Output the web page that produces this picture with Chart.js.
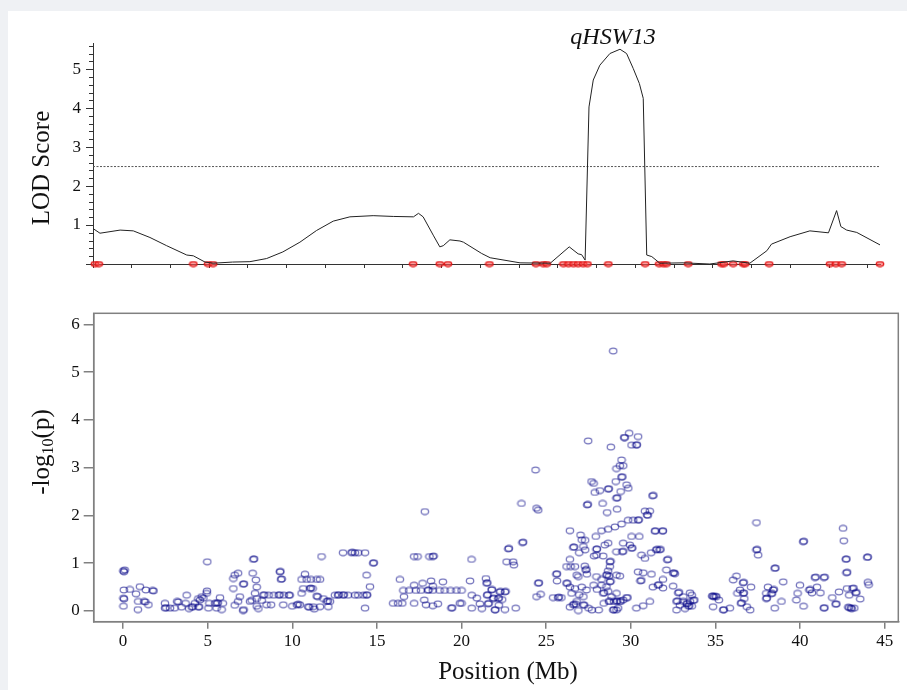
<!DOCTYPE html>
<html>
<head>
<meta charset="utf-8">
<script src="https://cdn.jsdelivr.net/npm/chart.js@4.4.1/dist/chart.umd.min.js"></script>
<style>
  body { margin: 0; background: #eff1f4; width: 907px; height: 690px; overflow: hidden; position: relative; font-family: "Liberation Serif", "DejaVu Serif", serif; }
  #panel { position: absolute; left: 8px; top: 11px; right: 0; bottom: 0; background: #fff; }
  canvas { position: absolute; left: 0; }
  #lodChart { top: 0; }
  #pChart { top: 290px; }
  .lbl { position: absolute; color: #111; white-space: nowrap; font-size: 25px; line-height: 1; }
  .rot { transform: translate(-50%, -50%) rotate(-90deg); }
  .ctr { transform: translate(-50%, -50%); }
  sub { font-size: 16px; vertical-align: -4px; line-height: 0; }
</style>
</head>
<body>
<div id="panel"></div>
<canvas id="lodChart" width="907" height="290"></canvas>
<canvas id="pChart" width="907" height="400"></canvas>
<div class="lbl rot" style="left:40px; top:168px;">LOD Score</div>
<div class="lbl ctr" style="left:613px; top:36px; font-style:italic; font-size:24px;">qHSW13</div>
<div class="lbl rot" style="left:40px; top:452px;">-log<sub>10</sub>(p)</div>
<div class="lbl ctr" style="left:508px; top:670px;">Position (Mb)</div>
<script>
// LOD profile (map units along the top panel) and its values
const lodPos = [0, 0.18, 0.7, 1.04, 1.47, 1.9, 2.42, 2.59, 2.89, 3.1, 3.6, 4.05, 4.48, 4.9, 5.34,
  5.77, 6.2, 6.63, 7.23, 7.75, 8.27, 8.4, 8.52, 8.78, 8.95, 9.04, 9.21, 9.47, 9.56, 10.03,
  10.25, 11.02, 11.8, 12.29, 12.52, 12.61, 12.7, 12.8, 12.91, 13.08, 13.34, 13.6, 13.77, 13.94, 14.1,
  14.2, 14.29, 14.42, 14.63, 15.23, 15.92, 16.52, 16.95, 17.39, 17.51, 17.99, 18.5, 18.98, 19.19, 19.3,
  19.45, 19.71, 20.31];
const lodVal = [0.91, 0.79, 0.87, 0.85, 0.68, 0.47, 0.23, 0.21, 0.05, 0.02, 0.05, 0.06, 0.14, 0.31, 0.56,
  0.86, 1.1, 1.21, 1.24, 1.22, 1.21, 1.3, 1.21, 0.74, 0.44, 0.47, 0.62, 0.59, 0.56, 0.27,
  0.16, 0.03, 0.02, 0.44, 0.26, 0.24, 0.1, 4.03, 4.72, 5.1, 5.4, 5.51, 5.4, 5.02, 4.63,
  4.25, 0.23, 0.19, 0.02, 0.03, 0.0, 0.08, 0.02, 0.34, 0.51, 0.7, 0.85, 0.8, 1.37, 0.96,
  0.87, 0.81, 0.49];
const markerPos = [0.05, 0.15, 2.59, 2.97, 3.1, 8.26, 8.95, 9.16, 10.23, 11.43, 11.62, 11.71, 12.14, 12.27,
  12.4, 12.52, 12.65, 12.76, 13.3, 14.25, 14.61, 14.72, 14.8, 15.36, 16.22, 16.28, 16.52, 16.78, 16.83,
  17.45, 19.02, 19.17, 19.32, 20.31];
const lodThreshold = 2.5;
const lodMapLength = 20.31;
const lodMax = 5.67;
const lodMinorStep = 0.2;

// SNP association: [position Mb, -log10(p)]
const snps0to5 = [[0.02,0.84],[0.06,0.82],[0.1,0.86],[0.05,0.44],[0.4,0.45],[1.0,0.51],[0.77,0.36],
  [0.03,0.27],[0.06,0.25],[0.03,0.1],[0.9,0.2],[0.88,0.03],[1.25,0.2],[1.32,0.19],[1.5,0.13],[1.75,0.43],
  [1.8,0.42],[1.35,0.44],[2.48,0.16],[2.48,0.06],[2.55,0.07],[2.78,0.06],[3.05,0.06],[3.2,0.2],[3.27,0.19],
  [3.46,0.08],[3.7,0.16],[3.76,0.33],[3.9,0.05],[4.06,0.08],[4.12,0.09],[4.25,0.16],[4.45,0.08],[4.5,0.09],
  [4.45,0.26],[4.55,0.23],[4.65,0.3],[4.75,0.27],[4.94,0.37],[4.96,0.42],[4.98,1.03],[5.05,0.06],[5.1,0.16]];
const snps5to10 = [[5.43,0.16],[5.53,0.16],[5.6,0.17],[5.73,0.28],[5.83,0.03],[5.53,0.06],[5.9,0.16],
  [6.52,0.68],[6.6,0.75],[6.8,0.79],[6.52,0.47],[7.1,0.56],[7.15,0.57],[6.9,0.3],[6.6,0.12],[6.8,0.2],
  [7.1,0.01],[7.12,0.03],[7.5,0.2],[7.6,0.22],[7.7,1.08],[7.75,1.09],[7.66,0.79],[7.85,0.65],[7.9,0.5],
  [7.8,0.37],[7.9,0.26],[7.9,0.1],[8.0,0.05],[8.2,0.22],[8.29,0.33],[8.35,0.34],[8.6,0.33],[8.9,0.33],
  [9.2,0.33],[9.25,0.34],[9.5,0.33],[9.8,0.33],[8.48,0.13],[8.75,0.13],[9.27,0.82],[9.3,0.83],[9.33,0.66],
  [9.38,0.67],[9.47,0.13],[9.85,0.33],[10.0,0.1]];
const snps10to20 = [[10.27,0.13],[10.35,0.14],[10.45,0.13],[10.55,0.37],[10.65,0.47],[10.75,0.77],
  [10.55,0.66],[10.85,0.66],[11.1,0.66],[11.44,0.66],[11.64,0.66],[11.04,0.47],[11.1,0.48],[11.2,0.47],
  [10.94,0.09],[11.0,0.08],[11.24,0.09],[11.3,0.04],[11.44,0.31],[11.5,0.3],[11.73,1.14],[11.64,0.09],
  [11.84,0.26],[12.03,0.2],[12.1,0.21],[12.23,0.2],[12.13,0.09],[12.52,0.33],[12.7,0.33],[12.75,0.34],
  [13.0,0.33],[13.05,0.34],[13.0,1.22],[13.5,1.22],[13.55,1.23],[13.7,1.22],[13.9,1.22],[14.3,1.22],
  [13.3,0.33],[13.7,0.33],[13.9,0.33],[14.2,0.33],[14.39,0.33],[14.42,0.34],[14.39,0.75],[14.59,0.51],
  [14.78,1.0],[14.82,1.01],[14.3,0.06],[16.36,0.66],[15.96,0.16],[16.25,0.16],[16.5,0.16],[16.6,0.3],
  [17.2,0.54],[17.2,0.16],[17.83,2.08],[17.2,1.14],[17.4,1.14],[18.1,1.14],[18.3,1.14],[18.35,1.15],
  [16.56,0.43],[16.9,0.43],[17.3,0.43],[17.6,0.43],[18.0,0.43],[18.05,0.44],[18.3,0.43],[18.7,0.43],
  [19.0,0.43],[19.35,0.43],[19.7,0.43],[17.7,0.58],[18.2,0.63],[18.3,0.52],[18.9,0.61],[17.9,0.13],
  [17.8,0.23],[18.3,0.11],[18.6,0.15],[19.4,0.06],[19.45,0.07],[19.9,0.16]];
const snps20to25 = [[20.0,0.43],[20.59,1.08],[20.5,0.63],[20.6,0.33],[20.0,0.16],[20.6,0.06],[20.9,0.27],
  [21.08,0.15],[21.2,0.05],[21.44,0.68],[21.48,0.58],[21.52,0.59],[21.5,0.33],[21.55,0.34],[21.57,0.15],
  [21.6,0.16],[21.77,0.44],[21.8,0.45],[21.87,0.26],[21.9,0.27],[21.97,0.02],[22.0,0.03],[22.17,0.26],
  [22.2,0.27],[22.26,0.4],[22.3,0.41],[22.2,0.12],[22.56,0.4],[22.6,0.41],[22.4,0.24],[22.56,0.03],
  [23.2,0.06],[22.76,1.3],[22.8,1.31],[22.66,1.03],[23.05,1.03],[23.09,0.96],[23.6,1.43],[23.64,1.44],
  [23.54,2.25],[24.43,2.15],[24.53,2.11],[24.37,2.95],[24.53,0.58],[24.57,0.59],[24.43,0.3],[24.67,0.35]];
const snps25to30 = [[28.96,5.44],[29.65,3.63],[29.6,3.63],[29.9,3.72],[30.43,3.65],[30.04,3.47],[30.33,3.47],
  [30.36,3.48],[27.48,3.56],[28.82,3.43],[27.68,2.71],[27.8,2.67],[27.87,2.48],[28.17,2.52],[28.66,2.55],
  [28.7,2.56],[28.33,2.25],[28.6,2.06],[29.15,2.36],[29.2,2.37],[29.19,2.13],[29.11,2.71],[29.15,2.98],
  [29.35,3.04],[29.55,3.04],[29.45,3.16],[29.45,2.8],[29.5,2.81],[29.75,2.64],[29.85,2.57],[29.4,2.5],
  [27.42,2.22],[27.46,2.23],[29.84,1.9],[30.14,1.9],[30.43,1.9],[30.47,1.91],[29.45,1.82],[29.06,1.76],
  [28.66,1.71],[28.27,1.68],[27.93,1.56],[30.04,1.56],[30.5,1.56],[26.4,1.68],[27.03,1.59],[27.1,1.49],
  [27.3,1.48],[26.6,1.33],[26.65,1.34],[27.2,1.35],[27.3,1.28],[26.95,1.22],[27.97,1.29],[28.0,1.3],
  [28.46,1.38],[28.66,1.42],[29.55,1.42],[30.04,1.31],[30.08,1.32],[29.94,1.38],[29.5,1.24],[29.55,1.25],
  [29.15,1.24],[30.63,1.17],[30.83,1.1],[26.4,1.08],[26.44,0.93],[26.2,0.93],[26.7,0.93],[27.28,0.94],
  [27.33,0.86],[27.38,0.87],[26.8,0.75],[26.9,0.72],[27.4,0.77],[27.97,1.17],[27.83,1.15],[28.37,1.15],
  [28.76,1.03],[28.8,1.04],[28.76,0.93],[28.66,0.84],[27.97,0.72],[28.27,0.66],[28.56,0.75],[28.6,0.76],
  [28.72,0.73],[29.15,0.75],[29.35,0.73],[28.27,0.54],[28.56,0.51],[28.76,0.61],[28.8,0.62],[25.6,0.77],
  [25.64,0.78],[25.64,0.63],[26.2,0.58],[26.25,0.58],[26.4,0.5],[26.7,0.47],[27.1,0.5],[27.38,0.44],
  [26.95,0.34],[27.2,0.3],[27.8,0.54],[28.0,0.45],[28.37,0.37],[28.42,0.38],[28.66,0.41],[28.86,0.3],
  [29.15,0.37],[25.41,0.28],[25.7,0.28],[25.75,0.29],[25.9,0.28],[26.5,0.37],[26.8,0.2],[26.6,0.13],
  [26.65,0.14],[26.75,0.14],[27.2,0.13],[27.25,0.12],[27.5,0.06],[27.7,0.02],[28.1,0.02],[26.4,0.08],
  [26.9,0.01],[28.4,0.16],[28.7,0.2],[28.75,0.2],[29.0,0.2],[29.15,0.2],[29.2,0.21],[29.35,0.2],[29.4,0.2],
  [29.55,0.23],[29.75,0.28],[29.8,0.28],[28.96,0.02],[29.0,0.03],[29.15,0.02],[29.25,0.06]];
const snps30to35 = [[30.33,0.06],[30.73,0.11],[31.12,0.2],[30.43,0.82],[30.73,0.8],[31.22,0.77],[32.1,0.86],
  [32.5,0.79],[32.55,0.8],[32.6,0.78],[31.9,0.66],[31.6,0.54],[31.65,0.55],[31.9,0.48],[32.5,0.52],[31.3,0.5],
  [30.57,0.63],[30.62,0.64],[31.28,2.41],[31.33,2.42],[30.83,2.09],[31.12,2.09],[30.96,2.01],[31.0,2.0],
  [31.42,1.67],[31.46,1.68],[31.87,1.67],[31.9,1.68],[31.5,1.28],[31.55,1.29],[31.7,1.28],[31.75,1.29],
  [31.2,1.22],[32.15,1.07],[32.2,1.08],[32.8,0.38],[32.85,0.39],[33.1,0.3],[32.7,0.2],[32.75,0.21],
  [33.1,0.2],[33.3,0.15],[33.35,0.16],[33.4,0.1],[33.45,0.11],[33.5,0.2],[33.7,0.22],[33.75,0.23],
  [33.6,0.33],[33.5,0.38],[32.7,0.02],[32.9,0.12],[33.2,0.05],[33.6,0.1],[34.8,0.31],[34.86,0.31],
  [34.9,0.3],[35.0,0.31],[35.05,0.3],[34.86,0.09],[35.2,0.23]];
const snps35to45 = [[35.45,0.02],[35.5,0.03],[35.85,0.06],[36.24,0.73],[36.05,0.65],[36.63,0.59],[36.67,0.6],
  [36.3,0.37],[36.63,0.37],[36.68,0.38],[36.45,0.44],[36.7,0.26],[36.5,0.16],[36.55,0.17],[36.85,0.09],
  [37.05,0.02],[37.1,0.5],[37.42,1.85],[37.42,1.28],[37.46,1.29],[37.52,1.17],[38.0,0.26],[38.04,0.27],
  [38.0,0.37],[38.1,0.5],[38.3,0.36],[38.35,0.37],[38.4,0.44],[38.45,0.45],[38.5,0.89],[38.54,0.9],
  [38.5,0.06],[38.9,0.2],[39.0,0.61],[39.78,0.23],[39.85,0.37],[39.99,0.54],[40.18,1.45],[40.22,1.46],
  [40.2,0.1],[40.55,0.44],[40.6,0.45],[40.7,0.38],[41.0,0.5],[40.87,0.7],[40.92,0.71],[41.4,0.7],[41.45,0.71],
  [41.2,0.38],[41.4,0.06],[41.44,0.07],[41.9,0.28],[42.1,0.14],[42.14,0.15],[42.54,1.73],[42.58,1.47],
  [42.7,1.08],[42.74,1.09],[42.74,0.8],[42.78,0.81],[42.3,0.4],[42.77,0.47],[42.85,0.08],[42.9,0.07],
  [43.0,0.06],[43.05,0.05],[42.9,0.33],[43.1,0.47],[43.15,0.48],[43.28,0.38],[43.32,0.39],[43.55,0.25],
  [43.2,0.06],[43.96,1.12],[44.0,1.13],[44.0,0.6],[44.05,0.55]];

const serif = '"Liberation Serif", "DejaVu Serif", serif';

function makeEllipse(w, h, rx, ry, stroke, lw, fill) {
  const c = document.createElement('canvas');
  c.width = w; c.height = h;
  const g = c.getContext('2d');
  g.beginPath();
  g.ellipse(w / 2, h / 2, rx, ry, 0, 0, Math.PI * 2);
  if (fill) { g.fillStyle = fill; g.fill(); }
  g.lineWidth = lw;
  g.strokeStyle = stroke;
  g.stroke();
  return c;
}

const ringImg = makeEllipse(10, 8, 3.7, 2.8, 'rgba(0,0,135,0.55)', 1.25);
const markerImg = makeEllipse(10, 7, 3.8, 2.3, 'rgba(225,20,20,1)', 1.2, 'rgba(255,90,90,0.6)');

// minor ticks on the LOD axis
const minorTicks = {
  id: 'minorTicks',
  afterDraw(chart) {
    const y = chart.scales.y;
    const ctx = chart.ctx;
    const left = chart.chartArea.left;
    ctx.save();
    ctx.strokeStyle = '#333';
    ctx.lineWidth = 1;
    for (let v = lodMinorStep; v <= lodMax; v += lodMinorStep) {
      if (Math.abs(v - Math.round(v)) < 0.01) continue;
      const py = Math.round(y.getPixelForValue(v)) + 0.5;
      ctx.beginPath();
      ctx.moveTo(left - 4, py);
      ctx.lineTo(left, py);
      ctx.stroke();
    }
    ctx.restore();
  }
};

// box around the association panel
const frameBox = {
  id: 'frameBox',
  afterDraw(chart) {
    const a = chart.chartArea;
    const ctx = chart.ctx;
    ctx.save();
    ctx.strokeStyle = '#808080';
    ctx.lineWidth = 1.5;
    ctx.strokeRect(a.left, a.top, a.right - a.left, a.bottom - a.top);
    ctx.restore();
  }
};

new Chart(document.getElementById('lodChart').getContext('2d'), {
  type: 'line',
  data: {
    datasets: [
      {
        data: lodPos.map((p, i) => ({ x: p, y: lodVal[i] })),
        borderColor: '#222',
        borderWidth: 1,
        pointRadius: 0,
        tension: 0,
        clip: false
      },
      {
        data: [{ x: 0, y: lodThreshold }, { x: lodMapLength, y: lodThreshold }],
        borderColor: '#555',
        borderWidth: 1,
        borderDash: [2, 1.5],
        pointRadius: 0
      },
      {
        data: markerPos.map(p => ({ x: p, y: 0 })),
        showLine: false,
        pointStyle: markerImg,
        pointRadius: 4,
        clip: false
      }
    ]
  },
  options: {
    responsive: false,
    animation: false,
    events: [],
    layout: { padding: { left: 0, right: 27, top: 43, bottom: 0 } },
    plugins: { legend: { display: false }, tooltip: { enabled: false } },
    scales: {
      x: {
        type: 'linear',
        min: 0,
        max: lodMapLength,
        afterFit: s => { s.height = 26; },
        ticks: { display: false, stepSize: 1, includeBounds: false },
        grid: { drawOnChartArea: false, tickLength: 4, color: '#333' },
        border: { color: '#333', width: 1 }
      },
      y: {
        min: 0,
        max: lodMax,
        afterFit: s => { s.width = 93; },
        ticks: {
          stepSize: 1,
          includeBounds: false,
          padding: 5,
          color: '#111',
          font: { family: serif, size: 17 },
          callback: v => (v === 0 ? '' : v)
        },
        grid: { drawOnChartArea: false, tickLength: 7, color: '#333' },
        border: { color: '#333', width: 1 }
      }
    }
  },
  plugins: [minorTicks]
});

const allSnps = [].concat(snps0to5, snps5to10, snps10to20, snps20to25, snps25to30, snps30to35, snps35to45);

new Chart(document.getElementById('pChart').getContext('2d'), {
  type: 'scatter',
  data: {
    datasets: [{
      data: allSnps.map(s => ({ x: s[0], y: s[1] })),
      pointStyle: ringImg,
      pointRadius: 4
    }]
  },
  options: {
    responsive: false,
    animation: false,
    events: [],
    layout: { padding: { left: 0, right: 8.7, top: 23.3, bottom: 0 } },
    plugins: { legend: { display: false }, tooltip: { enabled: false } },
    scales: {
      x: {
        type: 'linear',
        min: -1.73,
        max: 45.8,
        afterFit: s => { s.height = 68.3; },
        ticks: {
          stepSize: 5,
          includeBounds: false,
          padding: 3,
          color: '#111',
          maxRotation: 0,
          font: { family: serif, size: 17 }
        },
        grid: { drawOnChartArea: false, tickLength: 7, color: '#808080', lineWidth: 1.5 },
        border: { color: '#808080', width: 1.5 }
      },
      y: {
        min: -0.224,
        max: 6.23,
        afterFit: s => { s.width = 93.7; },
        ticks: {
          stepSize: 1,
          includeBounds: false,
          padding: 4,
          color: '#111',
          font: { family: serif, size: 17 }
        },
        grid: { drawOnChartArea: false, tickLength: 10, color: '#808080', lineWidth: 1.5 },
        border: { color: '#808080', width: 1.5 }
      }
    }
  },
  plugins: [frameBox]
});
</script>
</body>
</html>
